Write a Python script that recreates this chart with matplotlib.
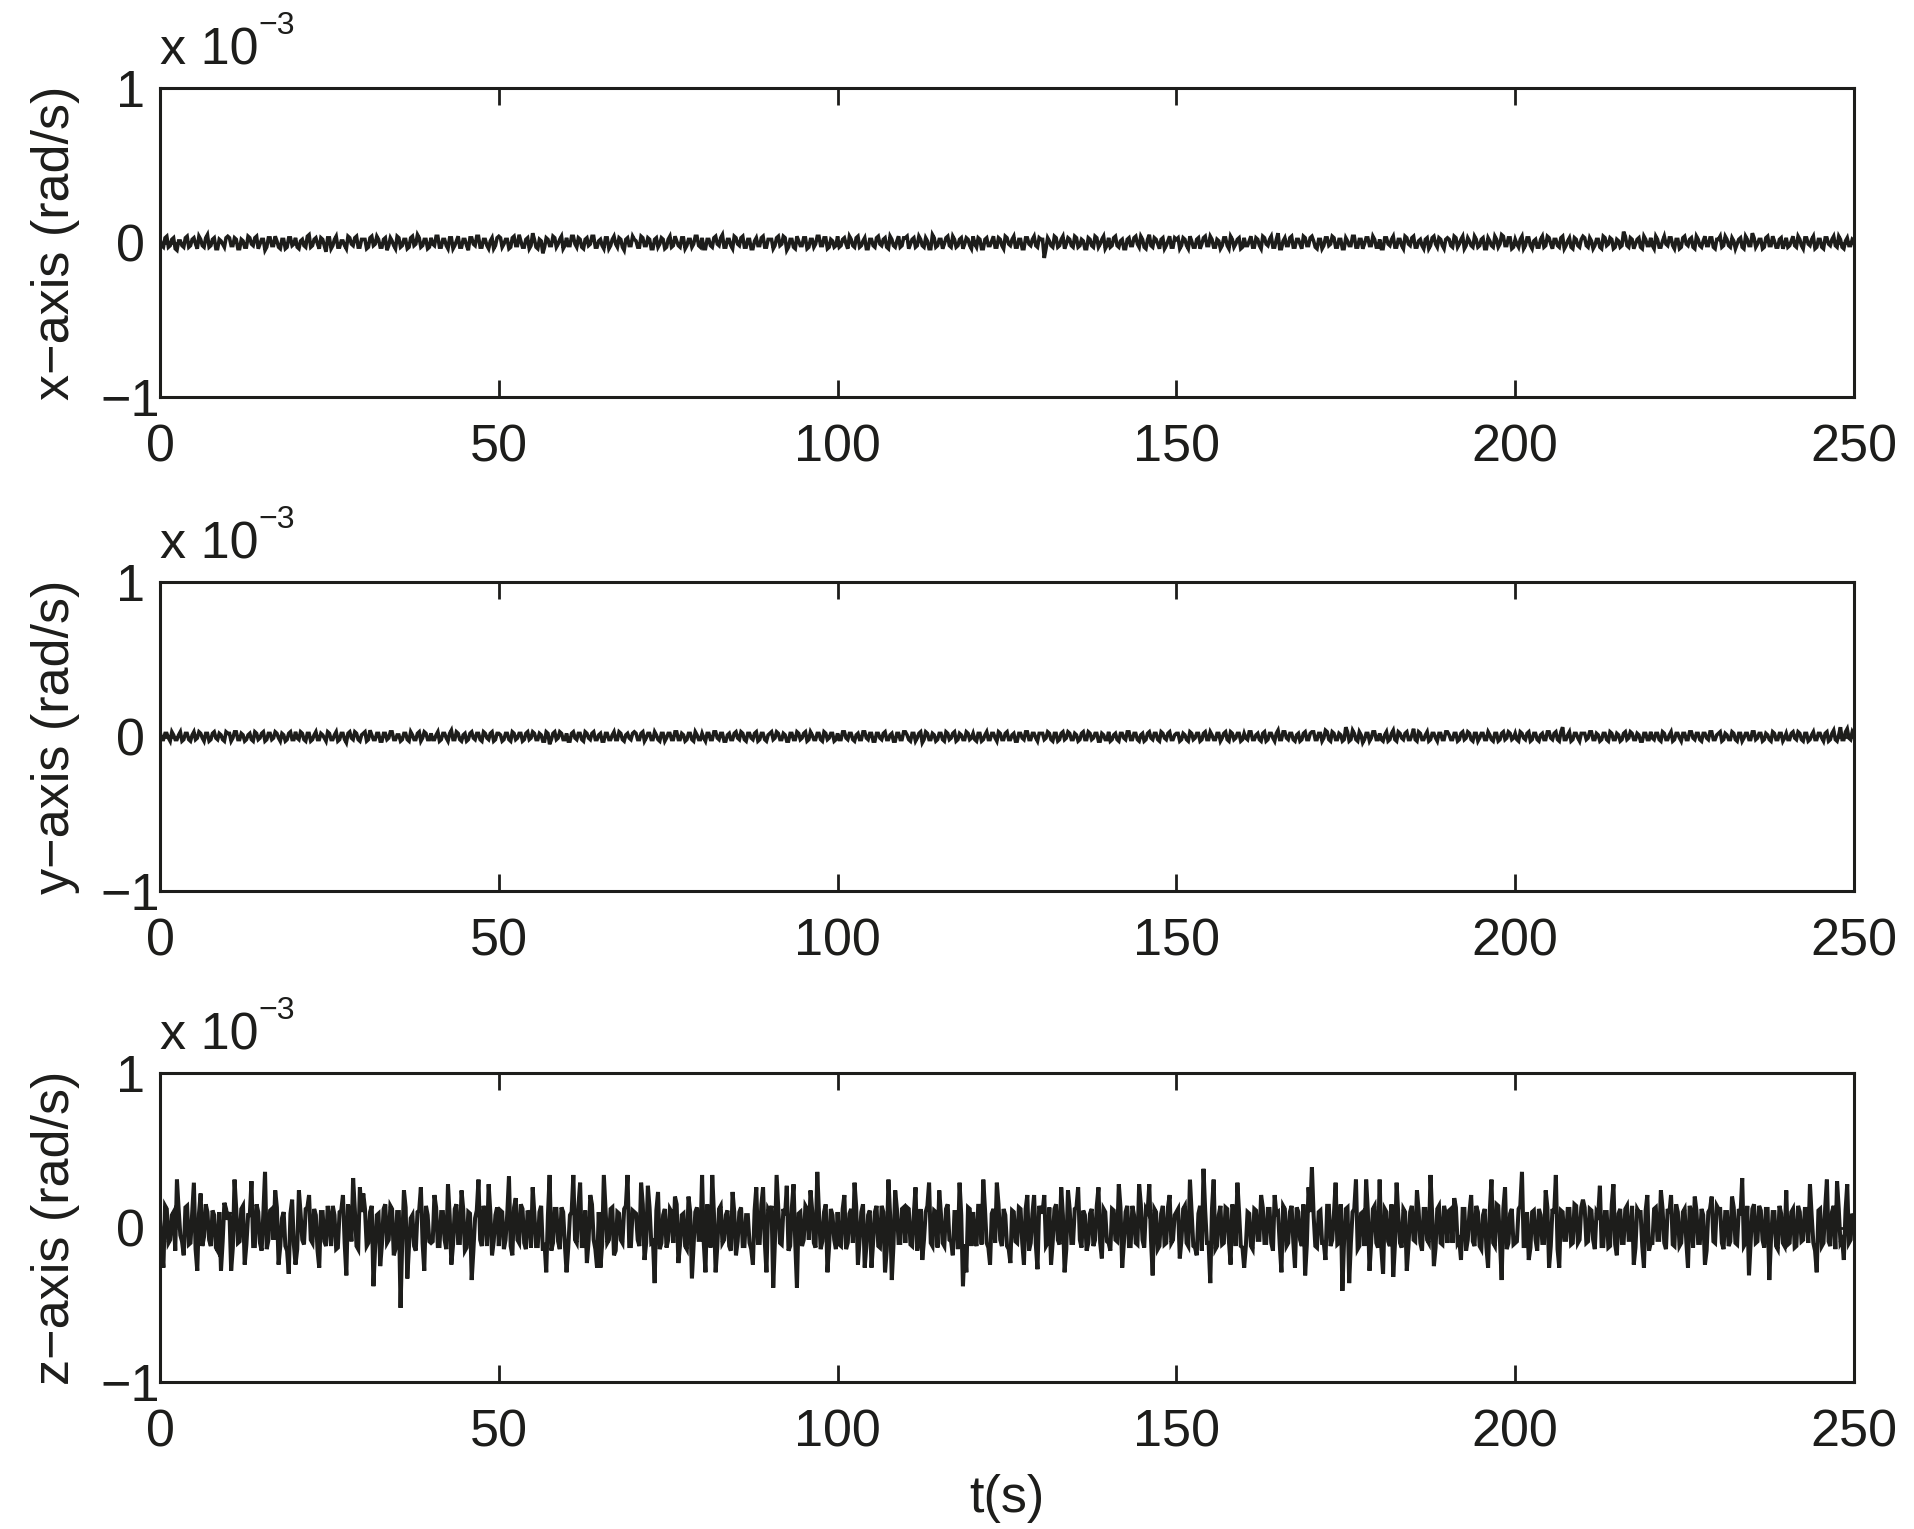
import numpy as np
import matplotlib
matplotlib.use("Agg")
import matplotlib.pyplot as plt

plt.rcParams['font.family'] = ['Liberation Sans', 'DejaVu Sans']

# sampling step of the recorded series (s): main samples every 0.5 s,
# with the in-between samples (at +0.25 s) stored in separate lists
t_step = 0.5

# angular rate values, in units of 1e-5 rad/s (0.01 x 10^-3)
x_rate_e5 = [
    2,-3,4,-2,3,-5,1,-3,4,-2,3,-4,2,-3,5,-2,3,-4,1,-3,
    4,-2,3,-4,2,-3,4,-1,3,-4,2,-5,3,-2,4,-3,2,-4,3,-2,
    3,-4,2,-3,5,-2,3,-4,2,-6,3,-2,4,-3,1,-4,3,-2,4,-3,
    2,-4,3,-2,4,-3,2,-5,3,-2,4,-3,2,-4,3,-2,5,-3,2,-4,
    3,-2,4,-3,2,-4,3,-2,4,-3,2,-5,3,-2,4,-3,2,-4,3,-2,
    4,-3,2,-4,3,-2,5,-3,2,-4,6,-3,2,-7,3,-2,4,-3,2,-4,
    3,-2,4,-3,2,-4,3,-1,4,-3,2,-4,3,-2,4,-3,2,-5,3,-2,
    2,-3,4,-2,3,-4,2,-3,3,-4,2,-3,4,-2,3,-4,2,-3,4,-2,
    3,-4,2,-3,4,-2,5,-3,2,-4,3,-2,4,-3,2,-4,3,-2,4,-3,
    2,-4,3,-2,4,-5,2,-3,4,-2,3,-4,2,-3,4,-2,3,-4,2,-3,
    4,-2,3,-4,2,-3,4,-2,3,-4,2,-3,4,-2,3,-4,2,-3,4,-2,
    3,-4,2,-3,4,-2,3,-4,5,-3,2,-4,3,-2,4,-3,2,-4,3,-2,
    4,-3,2,-4,3,-2,4,-3,2,-4,3,-2,4,-3,2,-4,3,-2,4,-3,
    2,-10,3,-2,4,-3,2,-4,3,-2,4,-3,2,-4,3,-2,4,-3,2,-4,
    3,-2,4,-3,2,-4,3,-2,4,-3,2,-4,5,-3,2,-4,3,-2,4,-3,
    2,-4,3,-2,4,-3,2,-4,3,-2,4,-3,2,-4,3,-2,4,-3,2,-4,
    3,-2,4,-3,2,-4,3,-2,4,-3,6,-4,3,-2,4,-3,2,-4,3,-2,
    4,-3,2,-4,3,-2,4,-3,2,-4,3,-2,4,-3,2,-4,3,-2,4,-3,
    2,-4,3,-2,4,-3,2,-4,3,-2,4,-3,2,-4,3,-2,4,-3,2,-4,
    3,-2,4,-3,2,-4,3,-2,4,-3,2,-4,3,-2,4,-3,5,-2,3,-4,
    2,-3,4,-2,3,-4,2,-3,4,-2,3,-4,2,-3,4,-2,3,-4,2,-3,
    4,-2,3,-4,2,-3,4,-2,3,-4,2,-3,7,-2,3,-4,2,-3,4,-2,
    3,-4,2,-3,4,-2,3,-4,2,-3,4,-2,3,-4,2,-3,4,-2,3,-4,
    2,-3,4,-2,3,-4,2,-3,4,-2,6,-3,2,-4,3,-2,4,-3,2,-4,
    3,-2,4,-3,2,-4,3,-2,4,-3,2,-4,3,-2,4,-3,2,-4,3,-2,1,
]
x_mid_e5 = [
    -2,3,-3,2,-4,1,-2,3,-3,2,-1,4,-2,3,-3,2,-4,2,-1,3,
    3,-2,2,-4,1,-3,3,-2,4,-1,2,-3,3,-2,1,-4,2,-3,3,-1,
    -3,1,-2,4,-3,2,-1,3,-2,3,-4,2,-3,1,-2,4,-1,3,-3,2,
    2,-3,4,-1,2,-3,3,-2,1,-4,3,-2,2,-3,4,-1,3,-2,2,-3,
    -1,4,-3,2,-2,3,-4,1,-3,2,-2,3,-1,4,-3,2,-2,1,-4,3,
    3,-1,2,-3,4,-2,1,-3,3,-2,2,-4,1,-3,2,-2,3,-1,4,-2,
    -2,4,-1,3,-3,2,-2,4,-3,1,-2,3,-4,2,-1,3,-3,2,-2,4,
    1,-3,3,-2,2,-4,3,-1,2,-3,4,-2,1,-3,3,-2,2,-1,4,-3,
    -4,2,-2,3,-1,3,-3,2,-2,4,-1,3,-3,2,-4,1,-2,3,-3,2,
    2,-2,4,-1,3,-3,2,-4,1,-2,3,-3,2,-1,4,-2,3,-3,1,-2,
    -3,2,-1,4,-2,3,-3,1,-4,2,-2,3,-1,2,-3,4,-2,1,-3,3,
    4,-1,3,-2,2,-3,1,-4,3,-2,2,-1,4,-3,2,-2,3,-1,2,-4,
    -1,3,-4,2,-2,1,-3,3,-2,4,-1,2,-3,2,-4,3,-1,2,-2,3,
    2,-4,1,-3,3,-2,4,-1,2,-3,3,-2,1,-4,2,-3,3,-1,4,-2,
    -3,3,-2,1,-4,2,-2,3,-1,4,-3,2,-2,3,-1,2,-4,1,-3,3,
    3,-2,2,-4,1,-3,3,-1,4,-2,2,-3,1,-2,3,-4,2,-1,3,-3,
    -2,1,-3,3,-2,4,-1,2,-3,2,-4,1,-2,3,-3,2,-1,4,-2,3,
    1,-4,2,-2,3,-1,3,-3,2,-4,1,-2,4,-3,2,-1,3,-2,2,-3,
    -4,3,-1,2,-3,2,-2,4,-1,3,-3,1,-2,2,-4,3,-1,3,-2,2,
    2,-3,3,-1,4,-2,1,-3,2,-2,3,-4,1,-3,2,-1,4,-2,3,-3,
    -1,2,-4,3,-2,1,-3,2,-3,4,-1,2,-2,3,-4,1,-3,3,-2,2,
    3,-3,1,-2,2,-4,3,-1,2,-3,1,-2,4,-3,2,-1,3,-4,2,-2,
    -2,4,-3,1,-1,3,-2,2,-4,3,-1,2,-3,4,-2,1,-2,3,-3,2,
    4,-2,2,-3,1,-1,3,-4,2,-2,3,-1,2,-3,4,-2,1,-3,3,-1,
    -3,1,-2,4,-2,3,-1,2,-4,2,-3,3,-1,2,-2,4,-3,1,-2,2,
]

y_rate_e5 = [
    3,-2,2,-3,1,-2,3,-2,2,-3,3,-1,2,-3,2,-2,3,-2,1,-3,
    2,-3,3,-2,2,-3,1,-2,3,-2,2,-3,2,-2,3,-1,2,-3,2,-2,
    3,-2,2,-3,2,-2,3,-2,1,-3,2,-2,3,-2,2,-4,3,-2,2,-3,
    2,-3,4,-2,2,-3,2,-2,3,-2,1,-3,2,-2,3,-2,2,-3,3,-2,
    2,-2,3,-2,2,-3,4,-2,2,-3,2,-2,3,-2,2,-3,2,-2,3,-2,
    2,-3,2,-2,3,-2,2,-3,2,-2,3,-2,2,-3,3,-5,2,-2,3,-2,
    2,-3,3,-2,2,-3,2,-2,3,-2,2,-3,2,-2,3,-2,2,-3,2,-2,
    3,-2,2,-3,2,-2,3,-2,2,-3,2,-2,3,-2,2,-3,2,-2,3,-2,
    2,-3,2,-2,3,-2,2,-3,2,-2,3,-2,2,-3,2,-2,3,-2,2,-3,
    2,-2,3,-2,2,-3,2,-2,3,-2,2,-3,3,-2,2,-2,3,-2,2,-3,
    2,-2,3,-2,2,-3,2,-2,3,-2,2,-3,2,-2,3,-2,2,-3,2,-2,
    3,-2,2,-3,2,-4,3,-2,2,-3,2,-2,3,-2,2,-3,2,-2,3,-2,
    2,-3,2,-2,3,-2,2,-3,2,-2,3,-2,2,-3,2,-2,3,-2,2,-3,
    2,-2,3,-2,2,-3,2,-2,3,-2,2,-3,2,-2,3,-2,2,-3,2,-2,
    3,-2,2,-3,2,-2,3,-2,2,-3,2,-2,3,-2,2,-3,2,-2,3,-2,
    2,-3,2,-2,3,-2,2,-3,2,-2,3,-2,2,-3,2,-2,3,-2,2,-3,
    2,-2,3,-2,2,-3,3,-2,2,-3,4,-2,3,-2,2,-3,2,-2,3,-2,
    3,-2,2,-3,4,-2,3,-2,2,-3,6,-3,4,-2,3,-4,2,-3,3,-2,
    2,-3,3,-2,4,-3,2,-2,3,-2,5,-3,2,-2,3,-2,2,-3,2,-2,
    3,-2,2,-3,2,-2,3,-2,2,-3,2,-2,3,-2,2,-3,2,-2,3,-2,
    2,-3,2,-2,3,-2,2,-3,2,-2,3,-2,3,-3,6,-2,3,-2,2,-3,
    2,-2,3,-2,2,-3,2,-2,3,-2,2,-3,2,-2,3,-2,2,-3,2,-2,
    3,-2,2,-3,2,-2,3,-2,2,-3,2,-2,3,-2,2,-3,2,-2,3,-2,
    2,-3,2,-2,3,-2,2,-3,2,-2,3,-2,2,-3,2,-2,3,-2,2,-3,
    2,-2,3,-2,2,-3,2,-2,3,-2,2,-3,3,-2,4,-3,6,-2,5,-2,1,
]
y_mid_e5 = [
    -2,2,-1,3,-2,1,-3,2,-2,1,-2,3,-1,2,-3,2,-1,2,-2,3,
    2,-1,3,-2,1,-2,2,-3,2,-1,3,-2,2,-1,2,-3,1,-2,3,-2,
    -1,3,-2,2,-3,1,-2,2,-1,3,-2,1,-3,2,-2,2,-1,3,-2,1,
    3,-2,1,-2,2,-3,2,-1,3,-2,1,-2,2,-3,1,-2,3,-1,2,-2,
    -2,1,-3,2,-1,2,-2,3,-2,1,-3,2,-1,2,-2,3,-1,2,-3,2,
    1,-2,2,-3,2,-1,2,-2,3,-1,2,-2,1,-3,2,-2,3,-1,2,-2,
    -3,2,-1,2,-2,3,-1,2,-2,1,-3,2,-2,1,-2,3,-2,1,-1,2,
    2,-2,3,-1,2,-2,1,-3,2,-1,2,-2,3,-2,1,-2,2,-3,1,-2,
    -1,2,-2,3,-1,2,-3,1,-2,2,-1,3,-2,2,-1,2,-3,2,-2,1,
    3,-1,2,-2,1,-3,2,-2,2,-1,3,-2,1,-2,2,-3,2,-1,2,-2,
    -2,3,-1,2,-2,1,-2,3,-1,2,-3,2,-1,2,-2,1,-3,2,-2,3,
    1,-3,2,-1,3,-2,2,-2,1,-2,2,-3,2,-1,3,-2,1,-2,2,-1,
    -2,2,-3,1,-2,2,-1,3,-2,2,-2,1,-3,2,-1,3,-2,2,-1,2,
    2,-1,2,-3,2,-2,3,-1,2,-2,1,-2,3,-2,2,-1,2,-3,1,-2,
    -3,1,-2,2,-1,3,-2,2,-2,1,-3,2,-1,2,-2,3,-1,2,-2,1,
    2,-2,1,-3,2,-1,2,-2,3,-2,1,-2,2,-1,3,-3,2,-1,2,-2,
    -1,3,-2,1,-2,2,-3,2,-1,2,-2,3,-1,2,-2,1,-3,2,-2,2,
    3,-2,2,-1,3,-3,2,-2,1,-2,3,-2,2,-3,1,-2,2,-1,3,-2,
    -2,1,-3,2,-2,3,-1,2,-2,1,-2,3,-2,1,-3,2,-1,2,-2,3,
    1,-2,2,-2,3,-1,2,-3,2,-1,2,-2,1,-3,2,-2,3,-1,2,-1,
    -2,3,-1,2,-3,2,-2,1,-2,3,-1,2,-2,3,-2,1,-3,2,-1,2,
    2,-1,3,-2,1,-2,2,-3,2,-2,1,-2,3,-1,2,-2,1,-3,2,-2,
    -1,2,-2,3,-2,1,-3,2,-1,2,-2,3,-1,2,-2,2,-1,3,-2,1,
    3,-2,1,-2,2,-3,2,-1,2,-2,3,-1,2,-2,1,-3,2,-2,2,-1,
    -2,2,-1,3,-2,2,-3,1,-2,2,-1,2,-3,2,-2,1,-2,3,-1,3,
]

z_rate_e5 = [
    5,-26,12,-8,10,31,-5,-18,14,-10,29,-28,22,-6,10,-12,8,-15,-28,16,
    5,-28,31,-10,12,-24,8,30,-12,10,-15,36,-8,12,24,-24,6,-12,-30,18,
    -24,24,-8,12,21,-10,8,-26,10,-12,6,14,-14,10,21,-31,8,32,-12,26,
    22,-12,10,-38,8,-25,12,-10,14,-18,10,-52,24,-33,6,-12,10,26,-28,8,
    -10,21,-12,10,-8,28,-24,12,-10,24,-15,10,-34,6,31,-12,10,28,-18,8,
    -12,10,-8,33,-18,19,-10,12,-14,8,26,-12,10,-15,-29,34,-10,12,-14,10,
    -29,8,34,-10,29,-12,-23,21,-8,-26,-26,34,-10,12,-18,10,-8,12,34,-12,
    10,-8,29,-21,27,-10,-36,23,-10,12,-8,10,20,-23,8,-12,20,-33,10,-8,
    34,-29,10,34,-29,12,-10,8,-12,23,-18,10,-12,8,-10,-24,26,-10,26,-29,
    10,-39,34,-10,12,27,-12,28,-39,10,-8,12,24,-10,36,-14,10,-29,12,-8,
    10,-12,21,-10,12,29,-24,10,-26,8,-26,10,-12,14,-29,31,-34,24,-10,12,
    -10,12,-12,26,-8,-21,10,29,-12,10,24,-10,12,-8,-18,10,29,-38,-29,12,
    10,-12,14,31,-10,-24,12,29,-8,12,-12,-23,10,-10,12,-24,21,-10,21,-27,
    10,21,-10,-24,12,-8,26,-29,24,-10,12,26,-13,8,-10,12,-8,26,-20,10,
    -10,12,-8,28,-26,10,-12,14,-10,28,-8,12,28,-31,10,-12,14,-10,21,-8,
    10,-20,12,-10,31,-12,-18,14,38,-10,-36,31,-12,14,-10,12,-24,10,29,-12,
    -26,10,-12,12,-8,21,-10,12,-10,21,10,-29,12,-10,14,-26,10,-12,-31,26,
    39,-12,10,-10,-21,14,-8,29,-10,-41,12,-36,10,31,-12,10,31,-28,12,-10,
    31,-30,10,-12,-32,29,-10,12,-28,10,-8,24,-10,12,-8,34,-25,12,-10,14,
    -10,12,19,-10,-21,12,-8,21,-12,10,-14,12,-26,31,-12,14,-34,26,-10,12,
    -10,12,36,-12,-21,10,-8,12,-10,24,-26,12,34,-26,10,-8,12,-10,14,-8,
    18,-10,12,-8,10,27,-12,10,-12,28,-18,12,-10,14,-8,-24,12,10,-26,21,
    -10,12,-8,24,-10,12,21,-12,10,-10,12,-26,10,20,-10,12,-24,10,20,-10,
    12,-10,10,-12,20,-10,12,32,-10,-31,12,-10,14,-8,12,-34,10,-12,14,-10,
    24,-10,12,-12,10,-8,12,28,-10,-29,12,-10,31,-12,14,30,-10,-21,28,-8,5,
]
z_mid_e5 = [
    -12,14,-10,8,-15,12,-9,13,-11,10,-14,9,-12,15,-8,11,-13,10,-9,12,
    10,-13,12,-9,14,-11,8,-12,15,-10,9,-14,11,-8,13,-12,10,-15,9,-11,
    -14,9,-11,13,-8,12,-15,10,-9,14,-12,8,-13,11,-10,15,-9,12,-14,10,
    12,-10,14,-13,9,-11,15,-8,12,-14,10,-9,13,-12,8,-15,11,-10,14,-9,
    -9,13,-12,10,-14,8,-11,15,-10,12,-13,9,-15,11,-8,14,-12,10,-9,13,
    11,-14,9,-12,13,-8,15,-10,11,-13,9,-12,14,-10,8,-15,12,-9,13,-11,
    -13,10,-8,14,-12,11,-9,15,-14,10,-11,12,-8,13,-15,9,-10,14,-12,11,
    9,-12,15,-10,13,-9,11,-14,8,-13,12,-10,15,-11,9,-14,10,-12,13,-8,
    -10,15,-13,9,-12,14,-8,11,-15,10,-9,13,-12,8,-14,11,-10,15,-9,12,
    14,-9,12,-11,8,-15,13,-10,9,-12,14,-8,11,-13,10,-9,15,-12,8,-14,
    -11,12,-14,9,-10,13,-8,15,-12,11,-9,14,-13,10,-15,8,-11,12,-10,13,
    13,-11,9,-15,12,-8,14,-10,11,-13,9,-12,15,-9,10,-14,8,-11,13,-12,
    -8,14,-11,12,-13,9,-10,15,-12,8,-14,11,-9,13,-10,12,-15,9,-11,14,
    10,-12,13,-9,15,-11,8,-14,12,-10,13,-8,11,-15,9,-12,14,-10,12,-9,
    -15,11,-9,13,-10,14,-12,8,-11,15,-13,10,-8,12,-14,9,-11,13,-10,8,
    12,-8,14,-12,10,-13,9,-15,11,-10,12,-14,8,-11,13,-9,15,-12,10,-13,
    -12,9,-14,11,-8,13,-10,12,-15,9,-11,14,-12,10,-9,13,-8,15,-11,10,
    8,-13,11,-10,14,-12,9,-11,15,-8,13,-10,12,-14,9,-12,11,-9,14,-13,
    -14,12,-9,15,-11,8,-13,10,-12,14,-9,11,-15,12,-10,8,-13,14,-11,9,
    11,-10,13,-8,12,-15,10,-9,14,-12,8,-13,11,-10,15,-9,12,-14,9,-11,
    -9,14,-12,10,-13,11,-15,8,-10,13,-12,9,-14,11,-8,12,-11,15,-10,13,
    13,-9,11,-14,8,-12,10,-13,15,-11,9,-10,12,-8,14,-13,10,-12,11,-15,
    -10,13,-8,12,-14,9,-11,15,-12,10,-9,14,-13,11,-10,8,-15,12,-9,14,
    12,-14,10,-9,13,-11,8,-12,14,-10,15,-9,11,-13,12,-8,10,-14,9,-12,
    -11,10,-13,14,-9,12,-10,8,-15,11,-12,13,-9,10,-14,12,-8,11,-10,9,
]

series = [(x_rate_e5, x_mid_e5), (y_rate_e5, y_mid_e5), (z_rate_e5, z_mid_e5)]
y_labels = ['x\u2212axis (rad/s)', 'y\u2212axis (rad/s)', 'z\u2212axis (rad/s)']
x_ticks = [0, 50, 100, 150, 200, 250]
y_ticks = [-1e-3, 0, 1e-3]
y_tick_labels = ['\u22121', '0', '1']
x_label = 't(s)'

W, H = 1914, 1529
fig = plt.figure(figsize=(W / 100, H / 100), dpi=100)

ink = '#1d1d1b'
fs = 37.5
panel_tops = [88, 582, 1073]
panel_h = 309
left, right = 160, 1854
line_widths = [2.6, 2.6, 2.9]

for i, ((main, mid), lab) in enumerate(zip(series, y_labels)):
    top = panel_tops[i]
    ax = fig.add_axes([left / W, 1 - (top + panel_h) / H, (right - left) / W, panel_h / H])
    main = np.array(main, dtype=float)
    mid = np.array(mid, dtype=float)
    n = len(main)
    v = np.empty(n + len(mid))
    v[0::2] = main
    v[1::2] = mid
    t = np.empty_like(v)
    t[0::2] = np.arange(n) * t_step
    t[1::2] = np.arange(len(mid)) * t_step + t_step / 2
    ax.plot(t, v * 1e-5, color=ink, lw=line_widths[i], solid_joinstyle='miter',
            solid_capstyle='butt')
    ax.set_xlim(0, 250)
    ax.set_ylim(-1e-3, 1e-3)
    ax.set_xticks(x_ticks)
    ax.set_xticklabels([str(k) for k in x_ticks])
    ax.set_yticks(y_ticks)
    ax.set_yticklabels(y_tick_labels)
    ax.tick_params(direction='in', length=12, width=2, colors=ink, labelsize=fs,
                   top=True, right=True)
    ax.tick_params(axis='x', pad=19)
    ax.tick_params(axis='y', pad=21.5)
    for tl in ax.get_yticklabels():
        tl.set_horizontalalignment('center')
    for s in ax.spines.values():
        s.set_linewidth(2.2)
        s.set_color(ink)
    ax.set_ylabel(lab, fontsize=fs, color=ink)
    ax.yaxis.set_label_coords(-0.047, 0.5)
    ax.text(0.0, 1.077, 'x 10', transform=ax.transAxes, fontsize=fs, color=ink,
            ha='left', va='baseline')
    ax.text(0.058, 1.175, '\u22123', transform=ax.transAxes, fontsize=23, color=ink,
            ha='left', va='baseline')
    if i == 2:
        ax.set_xlabel(x_label, fontsize=fs, color=ink, labelpad=12)

fig.savefig('out.png', dpi=100, facecolor='white')
